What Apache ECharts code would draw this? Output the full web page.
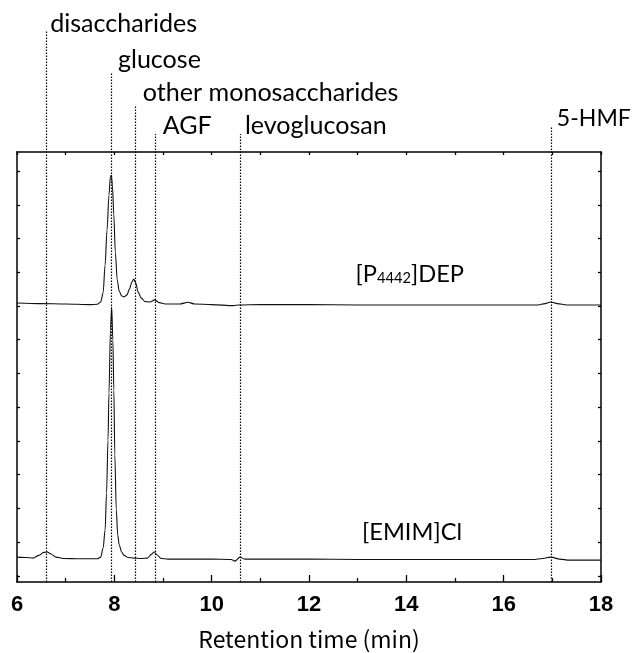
<!DOCTYPE html>
<html><head><meta charset="utf-8">
<script src="https://cdn.jsdelivr.net/npm/echarts@6/dist/echarts.min.js"></script>
<style>html,body{margin:0;padding:0;background:#fff}#c{width:633px;height:653px}</style>
</head><body><div id="c"></div>
<script>
// ---------------- data ----------------
const xTicks = [6, 8, 10, 12, 14, 16, 18];
const yTicks = [0, 1, 2, 3, 4, 5, 6, 7, 8, 9, 10, 11, 12];
const seriesNames = ['[P4442]DEP', '[EMIM]Cl'];
const peakNames = ['disaccharides', 'glucose', 'other monosaccharides', 'AGF', 'levoglucosan', '5-HMF'];
const peakTimes = [6.6, 7.93, 8.42, 8.83, 10.58, 16.97];

const depTime = [6.00,6.50,7.00,7.50,7.65,7.72,7.77,7.81,7.85,7.89,7.92,7.94,7.96,7.99,8.02,8.06,8.10,8.15,8.20,8.26,8.31,8.36,8.40,8.44,8.49,8.55,8.63,8.73,8.83,8.92,9.05,9.35,9.51,9.65,10.0,10.45,10.55,11,12,13,14,15,16,16.7,16.85,16.97,17.1,17.3,18];
const depSignal = [8.09,8.07,8.06,8.04,8.05,8.12,8.39,9.21,10.25,11.29,11.85,11.87,11.59,10.70,9.60,8.77,8.44,8.30,8.27,8.33,8.50,8.71,8.80,8.68,8.41,8.24,8.13,8.12,8.18,8.10,8.06,8.06,8.11,8.06,8.04,8.01,8.03,8.04,8.04,8.03,8.03,8.03,8.03,8.03,8.07,8.12,8.07,8.03,8.03];

const emimTime = [6.00,6.20,6.33,6.45,6.55,6.62,6.70,6.80,6.95,7.30,7.65,7.72,7.77,7.81,7.84,7.87,7.89,7.92,7.945,7.97,7.99,8.01,8.04,8.07,8.10,8.15,8.20,8.28,8.40,8.55,8.68,8.76,8.82,8.88,8.96,9.10,10.0,10.40,10.48,10.58,10.68,11,12,13,14,15,16,16.6,16.8,16.97,17.15,17.35,18];
const emimSignal = [0.56,0.55,0.53,0.61,0.70,0.71,0.65,0.56,0.52,0.51,0.51,0.56,0.83,1.36,2.46,4.03,5.42,7.29,7.97,6.99,5.51,3.59,1.96,1.21,0.92,0.71,0.61,0.55,0.53,0.52,0.53,0.64,0.71,0.62,0.52,0.50,0.50,0.49,0.44,0.56,0.50,0.50,0.50,0.49,0.49,0.49,0.49,0.49,0.52,0.56,0.50,0.47,0.47];

// ---------------- layout / style ----------------
const Y_MIN = -0.178, Y_MAX = 12.563;
const annotLayout = [
  {baseline: 34, lineTop: 30, dx: 4},
  {baseline: 70, lineTop: 72, dx: 7},
  {baseline: 103, lineTop: 105, dx: 8},
  {baseline: 136, lineTop: 134, dx: 8},
  {baseline: 136, lineTop: 134, dx: 5},
  {baseline: 127, lineTop: 127, dx: 6, maxW: 74}
];
const ctx = document.createElement('canvas').getContext('2d');
function widthAt(text, font) { ctx.font = font; return ctx.measureText(text).width; }
const FAM = 'Lato';
const annotSize = (147 / widthAt('disaccharides', '100px ' + FAM) +
                   140 / widthAt('levoglucosan', '100px ' + FAM) +
                   259 / widthAt('other monosaccharides', '100px ' + FAM)) / 3 * 100;
const serSize = 100 / widthAt('[EMIM]Cl', '100px ' + FAM) * 100;
const titleFam = 'Noto Sans CJK JP';
const titleSize = Math.min(23, 222 / widthAt('Retention time (min)', '100px "' + titleFam + '"') * 100);
const MID = 0.387; // baseline offset of em-box middle for Lato

function labelSize(i) {
  const L = annotLayout[i];
  if (!L.maxW) return annotSize;
  return Math.min(annotSize, L.maxW / widthAt(peakNames[i], '100px ' + FAM) * 100);
}
function zip(a, b) { return a.map((t, i) => [t, b[i]]); }

const chart = echarts.init(document.getElementById('c'), null, {renderer: 'canvas'});
const axisCol = '#000';
const tickStyle = {color: axisCol, width: 1.3};

const option = {
  animation: false,
  backgroundColor: '#fff',
  grid: {left: 17, right: 32, top: 152, bottom: 71, outerBoundsMode: 'none', containLabel: false},
  xAxis: [
    {
      type: 'value', position: 'bottom',
      min: xTicks[0], max: xTicks[xTicks.length - 1], interval: xTicks[1] - xTicks[0],
      axisLine: {show: true, onZero: false, lineStyle: {color: axisCol, width: 1.5}},
      axisTick: {show: true, inside: true, length: 7, lineStyle: tickStyle},
      minorTick: {show: true, splitNumber: 2, length: 4, lineStyle: tickStyle},
      axisLabel: {color: '#000', fontFamily: 'Liberation Sans', fontWeight: 'bold', fontSize: 22, margin: 12},
      splitLine: {show: false}, minorSplitLine: {show: false},
      name: 'Retention time (min)', nameLocation: 'middle', nameGap: 46,
      nameTextStyle: {fontFamily: titleFam, fontSize: titleSize, color: '#000'}
    },
    {
      type: 'value', position: 'top',
      min: xTicks[0], max: xTicks[xTicks.length - 1], interval: 1,
      axisLine: {show: true, onZero: false, lineStyle: {color: axisCol, width: 1.5}},
      axisTick: {show: true, inside: true, length: 3, lineStyle: tickStyle},
      axisLabel: {show: false}, splitLine: {show: false}
    }
  ],
  yAxis: [
    {
      type: 'value', position: 'left', min: Y_MIN, max: Y_MAX,
      axisLine: {show: true, onZero: false, lineStyle: {color: axisCol, width: 1.5}},
      axisTick: {show: true, inside: true, length: 3, lineStyle: tickStyle, customValues: yTicks},
      axisLabel: {show: false, customValues: yTicks},
      splitLine: {show: false}
    },
    {
      type: 'value', position: 'right', min: Y_MIN, max: Y_MAX,
      axisLine: {show: true, onZero: false, lineStyle: {color: axisCol, width: 1.5}},
      axisTick: {show: true, inside: true, length: 3, lineStyle: tickStyle, customValues: yTicks},
      axisLabel: {show: false, customValues: yTicks},
      splitLine: {show: false}
    }
  ],
  series: [
    {
      name: seriesNames[0], type: 'line', data: zip(depTime, depSignal),
      showSymbol: false, symbol: 'none', smooth: 0.3, smoothMonotone: 'x',
      lineStyle: {color: '#111', width: 1.1}, silent: true
    },
    {
      name: seriesNames[1], type: 'line', data: zip(emimTime, emimSignal),
      showSymbol: false, symbol: 'none', smooth: 0.3, smoothMonotone: 'x',
      lineStyle: {color: '#111', width: 1.1}, silent: true
    },
    {
      type: 'custom', silent: true, clip: false, z: 5,
      data: peakTimes.map(t => [t, 0]),
      encode: {x: 0, y: 1},
      renderItem: function (params, api) {
        const i = params.dataIndex;
        const L = annotLayout[i];
        const s = labelSize(i);
        const p = api.coord([api.value(0), Y_MIN]);
        const lx = Math.round(p[0]) + 0.5;
        return {
          type: 'group',
          children: [
            {type: 'line', shape: {x1: lx, y1: p[1], x2: lx, y2: L.lineTop},
             style: {stroke: '#000', lineWidth: 1.2, lineDash: [1.5, 1.5]}},
            {type: 'text',
             style: {text: peakNames[i], x: p[0] + L.dx, y: L.baseline - MID * s,
                     font: s.toFixed(2) + 'px ' + FAM, fill: '#000',
                     textAlign: 'left', align: 'left', textVerticalAlign: 'middle', verticalAlign: 'middle'}}
          ]
        };
      }
    }
  ],
  graphic: [
    {type: 'text', right: 633 - 464, top: 283 - MID * serSize - serSize / 2, silent: true,
     style: {text: '[P{s|4442}]DEP', font: serSize.toFixed(2) + 'px ' + FAM, fill: '#000',
             rich: {s: {fontFamily: FAM, fontSize: serSize * 0.62, verticalAlign: 'bottom', fill: '#000'}}}},
    {type: 'text', right: 633 - 462, top: 541 - MID * serSize - serSize / 2, silent: true,
     style: {text: seriesNames[1], font: serSize.toFixed(2) + 'px ' + FAM, fill: '#000'}}
  ]
};
chart.setOption(option);
</script>
</body></html>
